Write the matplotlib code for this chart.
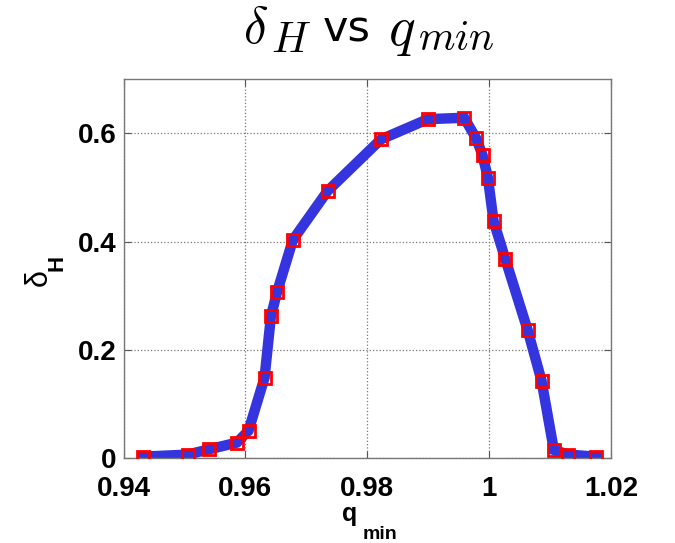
import matplotlib
matplotlib.use("Agg")
import matplotlib.pyplot as plt

q_min = [0.94317, 0.95051, 0.95406, 0.9586, 0.96052, 0.96315, 0.96419, 0.96523,
         0.9678, 0.97349, 0.98224, 0.98996, 0.99592, 0.99789, 0.99893, 0.99981,
         1.00074, 1.00265, 1.00632, 1.00862, 1.01064, 1.01299, 1.01759]
delta_H = [0.003, 0.0068, 0.0166, 0.0289, 0.051, 0.1488, 0.2619, 0.308,
           0.4033, 0.4936, 0.5889, 0.6264, 0.6289, 0.5908, 0.56, 0.5182,
           0.4383, 0.3688, 0.2373, 0.1432, 0.0154, 0.0068, 0.003]
x_ticks = [0.94, 0.96, 0.98, 1.0, 1.02]
x_tick_labels = ["0.94", "0.96", "0.98", "1", "1.02"]
y_ticks = [0, 0.2, 0.4, 0.6]
y_tick_labels = ["0", "0.2", "0.4", "0.6"]

plt.rcParams['mathtext.fontset'] = 'cm'
plt.rcParams['font.family'] = ['Liberation Sans', 'DejaVu Sans']

W, H = 675, 543
fig = plt.figure(figsize=(6.75, 5.43), dpi=100)
ax = fig.add_axes([0.183, 0.156, 0.722, 0.698])

ax.plot(q_min, delta_H, color='#3535e0', lw=7.5, solid_joinstyle='miter',
        marker='.', ms=4, mfc='#3535e0', mec='#3535e0', zorder=2)
ax.plot(q_min, delta_H, ls='none', marker='s', ms=8, mfc='none',
        mec='#ff0000', mew=2, zorder=3)

ax.set_xlim(0.94, 1.02)
ax.set_ylim(0, 0.7)
ax.set_xticks(x_ticks)
ax.set_xticklabels(x_tick_labels)
ax.set_yticks(y_ticks)
ax.set_yticklabels(y_tick_labels)
ax.tick_params(direction='in', top=True, right=True, length=5, color='#555555',
               labelsize=20)
ax.tick_params(axis='x', pad=13)
ax.tick_params(axis='y', pad=5)
for lab in ax.get_xticklabels() + ax.get_yticklabels():
    lab.set_fontweight('bold')
ax.grid(True, ls=':', color='#777777', lw=0.9)
for sp in ax.spines.values():
    sp.set_color('#777777')
    sp.set_linewidth(1.0)


def t(px, py, s, size, **kw):
    kw.setdefault('ha', 'left')
    kw.setdefault('va', 'baseline')
    fig.text(px / W, 1 - py / H, s, fontsize=size, **kw)


# x label: q with a large bold subscript
t(342, 521, 'q', 18, fontweight='bold')
t(363, 539, 'min', 14, fontweight='bold')

# y label: delta with bold H subscript (rotated)
t(47, 286, 'δ', 22, rotation=90, rotation_mode='anchor')
t(63, 271, 'H', 16, fontweight='bold', rotation=90, rotation_mode='anchor')

# title pieces (subscripts nearly full size, as in the reference)
t(243, 43, r'$\delta$', 37)
t(271, 52, r'$H$', 31)
t(323, 41, 'vs', 31, family='DejaVu Sans')
t(388, 45, r'$q$', 40)
t(418, 50, r'$min$', 30)

fig.savefig('out.png', dpi=100)
